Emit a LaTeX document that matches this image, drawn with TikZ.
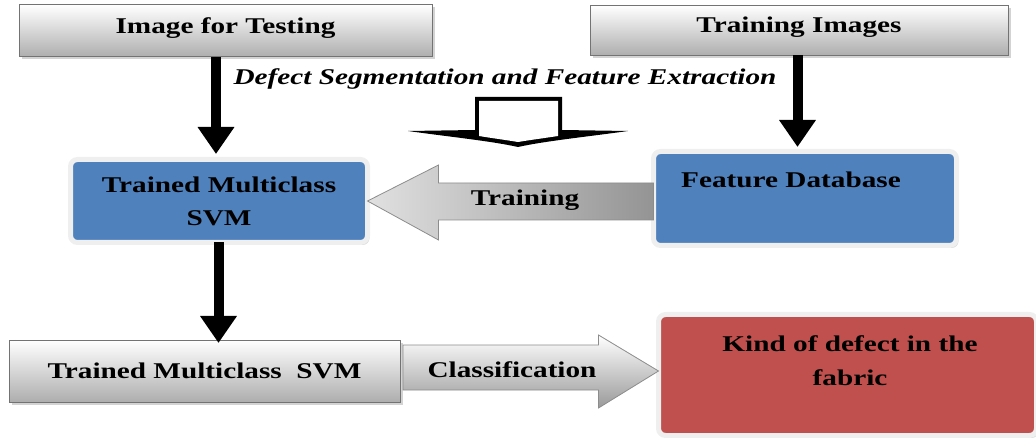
\documentclass[tikz,border=0pt]{standalone}
\usepackage{fontspec}
\setmainfont{Liberation Serif}[FakeStretch=1.3]
\usetikzlibrary{arrows.meta,shadows,calc}

\definecolor{boxblue}{HTML}{4F81BD}
\definecolor{boxred}{HTML}{C0504D}
\definecolor{rimgray}{HTML}{EFEFEF}

\tikzset{
  txt/.style={font=\fontsize{22.5}{33}\selectfont\bfseries, align=center, inner sep=0pt},
  graybox/.style={txt, draw=black!55, line width=1pt, top color=white, bottom color=black!32,
    drop shadow={shadow xshift=2.5pt, shadow yshift=-2.5pt, opacity=.35},
    outer sep=0pt, text height=14.9pt, text depth=0pt},
  softbox/.style={rounded corners=7pt, draw=rimgray, line width=5pt, outer sep=0pt,
    drop shadow={shadow xshift=2pt, shadow yshift=-2.5pt, opacity=.3}},
  flowarrow/.style={line width=10pt, -{Triangle[length=27pt,width=35pt]}},
  blockarrow/.style={draw=black!45, line width=0.8pt, line join=miter},
}

\begin{document}
\begin{tikzpicture}[x=1pt, y=-1pt]
\useasboundingbox (0,0) rectangle (1036,438);

% inputs
\node[graybox, minimum width=413pt, minimum height=52pt, text depth=10pt] (test) at (225.5,31) {Image for Testing};
\node[graybox, minimum width=418pt, minimum height=50pt, text depth=10pt] (train) at (799,30.5) {Training Images};

% classifier and database
\node[softbox, fill=boxblue, minimum width=297pt, minimum height=83pt] (svm) at (219,201) {};
\node[txt] (svmtext) at (svm.center) {Trained Multiclass\\SVM};
\node[softbox, fill=boxblue, minimum width=303pt, minimum height=94pt] (fdb) at (805,198.5) {};
\node[txt] (fdbtext) at (791,180) {Feature Database};

% result
\node[graybox, minimum width=391pt, minimum height=62pt] (svm2) at (204.5,371) {Trained Multiclass\ \ SVM};
\node[softbox, fill=boxred, minimum width=378pt, minimum height=121pt] (kind) at (847.5,375) {};
\node[txt, font=\fontsize{22.5}{34}\selectfont\bfseries] (kindtext) at (850,361) {Kind of defect in the\\fabric};

% processing step: outlined hollow arrow (black outline, white inside)
\node[txt, font=\fontsize{22.5}{33}\selectfont\bfseries\itshape] (seg) at (505,79) {Defect Segmentation and Feature Extraction};
\fill[black]
  (475,97) -- (562,97) -- (562,130) -- (628,131)
  .. controls (585,137) and (545,141) .. (518,147)
  .. controls (491,141) and (451,137) .. (408,131) -- (475,130) -- cycle;
\fill[white]
  (479,101) -- (558,101) -- (558,136)
  .. controls (545,138) and (530,140) .. (518,142)
  .. controls (506,140) and (491,138) .. (479,136) -- cycle;

% flow arrows
\draw[flowarrow] (test.south -| 216,0) -- (216,154);
\draw[flowarrow] (train.south -| 797.5,0) -- (797.5,147);
\draw[flowarrow] (svm.south -| 218.5,0) -- (218.5,343);

% training block arrow
\coordinate (tA) at (svm.east);
\path[blockarrow, left color=black!12, right color=black!42]
  (tA) -- ++(71,-36) -- ++(0,18) -- ($(tA -| fdb.west)+(0,-18)$) -- ++(0,37)
  -- ($(tA)+(71,19)$) -- ++(0,20) -- cycle;
\node[txt] (traintext) at (525,200) {Training};

% classification block arrow
\coordinate (cA) at ([xshift=3pt]svm2.east);
\coordinate (cT) at (cA -| kind.west);
\path[blockarrow, top color=white, bottom color=black!40]
  ($(cA)+(0,-26)$) -- ($(cT)+(-60,-26)$) -- ($(cT)+(-60,-36)$) -- (cT)
  -- ($(cT)+(-60,37)$) -- ($(cT)+(-60,19)$) -- ($(cA)+(0,19)$) -- cycle;
\node[txt] (classtext) at (512,370) {Classification};
\end{tikzpicture}
\end{document}
